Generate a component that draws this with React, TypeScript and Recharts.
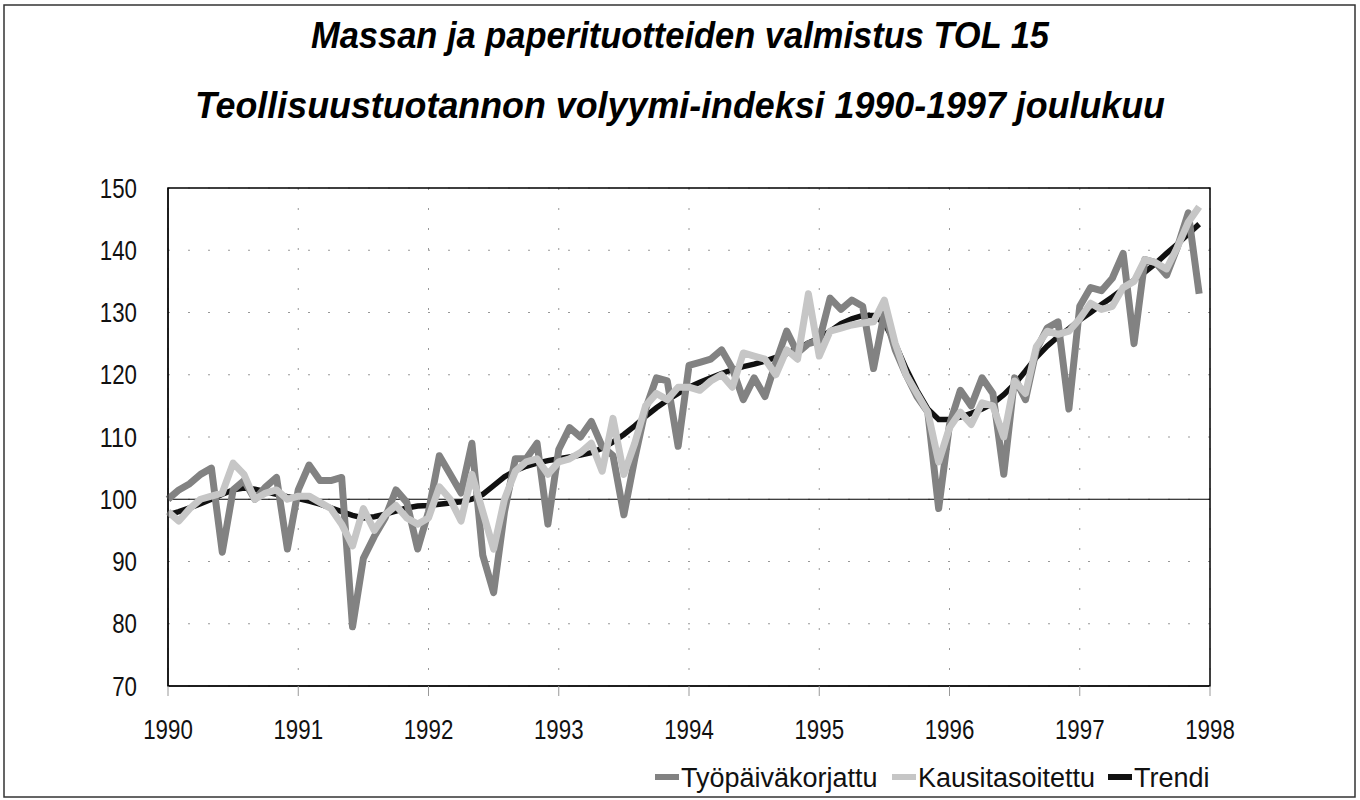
import React from "react";
import {
  LineChart,
  Line,
  XAxis,
  YAxis,
  CartesianGrid,
  ReferenceLine,
  ReferenceArea,
} from "recharts";

// monthly index 1990/01 .. 1997/12
const years = [1990, 1991, 1992, 1993, 1994, 1995, 1996, 1997, 1998];
const yTicks = [70, 80, 90, 100, 110, 120, 130, 140, 150];

const tyopaiva = [
  100, 101.5, 102.5, 104, 105, 91.5, 101.5, 103, 100, 102, 103.5, 92,
  101.5, 105.5, 103, 103, 103.5, 79.5, 90.5, 94, 97, 101.5, 99.5, 92,
  98, 107, 104, 101, 109, 91, 85, 98, 106.5, 106.5, 109, 96,
  108, 111.5, 110, 112.5, 108.5, 107, 97.5, 106.5, 114.5, 119.5, 119, 108.5,
  121.5, 122, 122.5, 124, 121, 116, 119.5, 116.5, 122, 127, 123.5, 125,
  125.5, 132.3, 130.5, 132, 131, 121, 130, 124, 120, 116.5, 114, 98.5,
  112, 117.5, 115, 119.5, 117, 104, 119.5, 116, 124, 127.5, 128.5, 114.5,
  131, 134, 133.5, 135.5, 139.5, 125, 138.5, 138, 136, 140.5, 146, 133,
];

const kausi = [
  98, 96.5, 98.5, 100, 100.5, 101, 105.8, 104, 100, 101, 101.5, 100,
  100.5, 100.5, 99.5, 98.5, 96, 92.5, 98.5, 95, 97.5, 99, 97, 96,
  97, 102, 100, 96.5, 104, 98, 92, 100, 104.5, 106, 106.5, 104,
  106, 106.5, 107.5, 109, 104.5, 113, 104, 109, 115, 117, 116, 118,
  118, 117.5, 119, 120, 118, 123.5, 123, 122.5, 120, 124, 122.5, 133,
  123, 127, 127.5, 128, 128.3, 128.5, 132, 125, 120, 117, 114, 106,
  111.5, 114, 112, 115.5, 115, 110, 119, 117, 124.5, 127, 126.5, 127,
  129, 131.5, 130.5, 131, 134, 135, 138.5, 138, 137, 140.5, 144.5, 147,
];

const trendi = [
  97.5, 98, 98.6, 99.3, 100, 100.8, 101.5, 101.8, 101.6, 101.2, 100.8, 100.4,
  100.1, 99.7, 99.2, 98.6, 98, 97.4, 97, 97.2, 97.6, 98.1, 98.6, 98.9,
  99, 99.2, 99.4, 99.6, 100, 100.8, 102.2, 103.6, 104.6, 105.3, 105.8, 106.2,
  106.5, 106.8, 107.1, 107.5, 108.2, 109.2, 110.4, 111.8, 113.3, 114.7, 115.9, 117,
  118, 118.8, 119.5, 120.2, 120.8, 121.3, 121.7, 122.2, 122.8, 123.4, 124.2, 125.1,
  125.9, 127, 128.2, 129, 129.5, 129.5, 128.3, 125, 121, 117.5, 114.5, 112.8,
  112.8, 113.2, 113.8, 114.5, 115.4, 116.8, 118.5, 120.6, 122.8, 124.6, 126.1, 127.4,
  128.8, 130, 131.3, 132.5, 133.8, 135.2, 136.5, 137.9, 139.5, 141, 142.6, 144.2,
];

const seriesNames = ["Työpäiväkorjattu", "Kausitasoitettu", "Trendi"];
const title1 = "Massan ja paperituotteiden valmistus TOL 15";
const title2 = "Teollisuustuotannon volyymi-indeksi 1990-1997 joulukuu";

const data = tyopaiva.map((v, i) => ({
  m: i,
  tyopaiva: v,
  kausi: kausi[i],
  trendi: trendi[i],
}));

const FONT = "'Liberation Sans', Arial, sans-serif";
const DARK = "#828282";
const LIGHT = "#c6c6c6";
const BLACK = "#111";
const DIGIT_W = 12.4; // condensed digits, like the original narrow font

// legend swatch start positions
const legendItems = [
  { name: seriesNames[0], color: DARK, x: 655 },
  { name: seriesNames[1], color: LIGHT, x: 892 },
  { name: seriesNames[2], color: BLACK, x: 1108 },
];

function XTick(props: any) {
  const { x, y, payload } = props;
  const label = String(years[Math.round(payload.value / 12)]);
  return (
    <text
      x={x}
      y={y}
      dy="0.71em"
      textAnchor="middle"
      fontSize={27}
      fontFamily={FONT}
      fill="#111"
      textLength={label.length * DIGIT_W}
      lengthAdjust="spacingAndGlyphs"
    >
      {label}
    </text>
  );
}

function YTick(props: any) {
  const { x, y, payload } = props;
  const label = String(payload.value);
  return (
    <text
      x={x}
      y={y}
      dy="0.36em"
      textAnchor="end"
      fontSize={27}
      fontFamily={FONT}
      fill="#111"
      textLength={label.length * DIGIT_W}
      lengthAdjust="spacingAndGlyphs"
    >
      {label}
    </text>
  );
}

export default function App() {
  return (
    <div
      style={{
        position: "absolute",
        left: 0,
        top: 0,
        width: 1360,
        height: 800,
        background: "#fff",
        fontFamily: FONT,
      }}
    >
      <svg width={1360} height={800} style={{ position: "absolute", left: 0, top: 0 }}>
        <rect x={4} y={5} width={1351} height={792} fill="none" stroke="#333" strokeWidth={1.5} />
        <text
          x={680}
          y={48}
          textAnchor="middle"
          fontSize={37}
          fontWeight="bold"
          fontStyle="italic"
          fontFamily={FONT}
          textLength={738}
          lengthAdjust="spacingAndGlyphs"
        >
          {title1}
        </text>
        <text
          x={680}
          y={118}
          textAnchor="middle"
          fontSize={37}
          fontWeight="bold"
          fontStyle="italic"
          fontFamily={FONT}
          textLength={970}
          lengthAdjust="spacingAndGlyphs"
        >
          {title2}
        </text>
        {legendItems.map((it) => (
          <g key={it.name}>
            <line x1={it.x} x2={it.x + 24} y1={777} y2={777} stroke={it.color} strokeWidth={6} />
            <text x={it.x + 26} y={787} fontSize={27} fontFamily={FONT} fill="#111">
              {it.name}
            </text>
          </g>
        ))}
      </svg>
      <div style={{ position: "absolute", left: 0, top: 0 }}>
        <LineChart
          width={1360}
          height={800}
          data={data}
          margin={{ top: 188, right: 150, bottom: 74, left: 0 }}
        >
          <CartesianGrid stroke="#999" strokeDasharray="2 18" />
          <XAxis
            type="number"
            dataKey="m"
            domain={[0, 96]}
            ticks={years.map((_, i) => i * 12)}
            height={40}
            tickSize={10}
            tickMargin={24}
            tickLine={{ stroke: "#999" }}
            axisLine={{ stroke: "#000" }}
            tick={<XTick />}
          />
          <YAxis
            type="number"
            domain={[70, 150]}
            ticks={yTicks}
            width={168}
            tickLine={false}
            tickMargin={25}
            axisLine={{ stroke: "#000" }}
            tick={<YTick />}
          />
          <ReferenceArea x1={0} x2={96} y1={70} y2={150} fill="none" stroke="#000" strokeWidth={1.5} />
          <ReferenceLine y={100} stroke="#000" strokeWidth={1.2} />
          <Line
            type="linear"
            dataKey="trendi"
            name={seriesNames[2]}
            stroke={BLACK}
            strokeWidth={5.5}
            dot={false}
            isAnimationActive={false}
          />
          <Line
            type="linear"
            dataKey="tyopaiva"
            name={seriesNames[0]}
            stroke={DARK}
            strokeWidth={7}
            strokeLinejoin="round"
            dot={false}
            isAnimationActive={false}
          />
          <Line
            type="linear"
            dataKey="kausi"
            name={seriesNames[1]}
            stroke={LIGHT}
            strokeWidth={7}
            strokeLinejoin="round"
            dot={false}
            isAnimationActive={false}
          />
        </LineChart>
      </div>
    </div>
  );
}
